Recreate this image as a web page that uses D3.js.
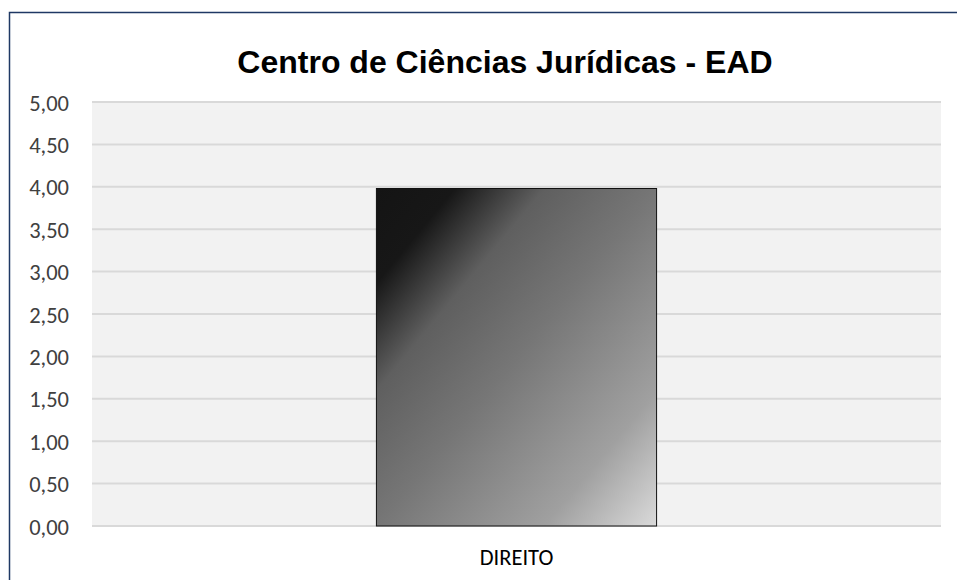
<!DOCTYPE html>
<html>
<head>
<meta charset="utf-8">
<script src="https://cdn.jsdelivr.net/npm/d3@7"></script>
<style>
  html, body { margin: 0; background: #fff; overflow: hidden; }
  svg { display: block; }
</style>
</head>
<body>
<div id="chart"></div>
<script>
// data
const categories = ["DIREITO"];
const values = [3.98];
const yTicks = [0, 0.5, 1, 1.5, 2, 2.5, 3, 3.5, 4, 4.5, 5];
const title = "Centro de Ciências Jurídicas - EAD";

const width = 957;
const height = 580;
const margin = {top: 102, right: 16, bottom: 54, left: 92};
const innerWidth = width - margin.left - margin.right;
const innerHeight = height - margin.top - margin.bottom;

const svg = d3.select("#chart")
    .append("svg")
    .attr("width", width)
    .attr("height", height);

// gradient for the bar
const defs = svg.append("defs");
const grad = defs.append("linearGradient")
    .attr("id", "barGrad")
    .attr("x1", 0).attr("y1", 0)
    .attr("x2", 1).attr("y2", 1);
[[0, "#141414"], [0.14, "#171717"], [0.3, "#5f5f5f"], [0.5, "#767676"],
 [0.8, "#a0a0a0"], [1, "#dadada"]].forEach(s => {
    grad.append("stop").attr("offset", s[0]).attr("stop-color", s[1]);
});

// outer frame (only left and top visible)
svg.append("path")
    .attr("d", `M9.5,${height} L9.5,12.5 L${width},12.5`)
    .attr("fill", "none")
    .attr("stroke", "#1f3864")
    .attr("stroke-width", 1.5);

svg.append("text")
    .attr("x", 505)
    .attr("y", 73)
    .attr("text-anchor", "middle")
    .style("font-family", "'Liberation Sans', Arial, sans-serif")
    .style("font-weight", "bold")
    .style("font-size", "32px")
    .attr("fill", "#000")
    .text(title);

const g = svg.append("g")
    .attr("transform", `translate(${margin.left},${margin.top})`);

const x = d3.scaleBand()
    .domain(categories)
    .range([0, innerWidth])
    .paddingInner(0.67)
    .paddingOuter(0.335);

const y = d3.scaleLinear()
    .domain([0, 5])
    .range([innerHeight, 0]);

g.append("rect")
    .attr("width", innerWidth)
    .attr("height", innerHeight)
    .attr("fill", "#f2f2f2");

// grid
g.append("g")
    .selectAll("line")
    .data(yTicks)
    .join("line")
    .attr("x1", 0)
    .attr("x2", innerWidth)
    .attr("y1", d => y(d))
    .attr("y2", d => y(d))
    .attr("stroke", "#d9d9d9")
    .attr("stroke-width", 2);

// y axis labels
const yAxis = g.append("g")
    .call(d3.axisLeft(y).tickValues(yTicks).tickSize(0).tickPadding(23)
        .tickFormat(d => d3.format(".2f")(d).replace(".", ",")));
yAxis.select(".domain").remove();
yAxis.selectAll("text")
    .attr("dy", "0.36em")
    .style("font-family", "Carlito, 'Open Sans', sans-serif")
    .style("font-size", "22.5px")
    .attr("fill", "#404040");

// bars
g.append("g")
    .selectAll("rect")
    .data(values)
    .join("rect")
    .attr("x", (d, i) => x(categories[i]))
    .attr("y", d => y(d))
    .attr("width", x.bandwidth())
    .attr("height", d => y(0) - y(d))
    .attr("fill", "url(#barGrad)")
    .attr("stroke", "#111")
    .attr("stroke-width", 1);

// x axis labels
const xAxis = g.append("g")
    .attr("transform", `translate(0,${innerHeight})`)
    .call(d3.axisBottom(x).tickSize(0).tickPadding(23));
xAxis.select(".domain").remove();
xAxis.selectAll("text")
    .style("font-family", "Carlito, 'Open Sans', sans-serif")
    .style("font-size", "22.5px")
    .attr("fill", "#000");
</script>
</body>
</html>
